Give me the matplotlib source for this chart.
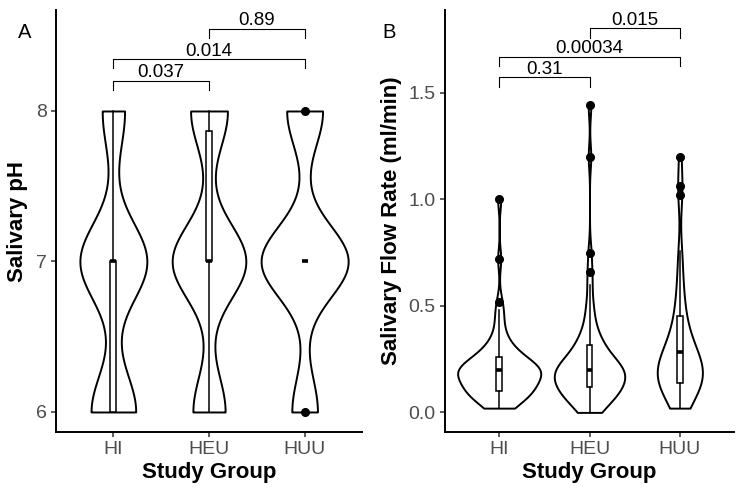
import numpy as np
import matplotlib
matplotlib.use('Agg')
import matplotlib.pyplot as plt

plt.rcParams['font.family'] = ['Liberation Sans', 'DejaVu Sans']

groups = ['HI', 'HEU', 'HUU']

# Panel A: salivary pH, counts of readings at 6, 7 and 8
ph_levels = [6, 7, 8]
ph_counts_hi = [10, 15, 5]
ph_counts_heu = [7, 16, 8]
ph_counts_huu = [5, 17, 7]

# box statistics: q1, median, q3, whisker low, whisker high
ph_box = [
    dict(q1=6.0, med=7.0, q3=7.0, whislo=6.0, whishi=8.0, fliers=[]),
    dict(q1=7.0, med=7.0, q3=7.87, whislo=6.0, whishi=8.0, fliers=[]),
    dict(q1=7.0, med=7.0, q3=7.0, whislo=7.0, whishi=7.0, fliers=[6.0, 8.0]),
]
ph_pvals = ['0.037', '0.014', '0.89']
ph_pairs = [(1, 2), (1, 3), (2, 3)]

# Panel B: salivary flow rate (ml/min), value -> number of subjects
flow_hi_values = [0.02, 0.04, 0.06, 0.08, 0.10, 0.12, 0.14, 0.16, 0.18, 0.20, 0.22,
                  0.24, 0.26, 0.28, 0.30, 0.32, 0.34, 0.36, 0.40, 0.44, 0.48,
                  0.52, 0.72, 1.00]
flow_hi_counts = [3, 2, 2, 3, 7, 3, 3, 4, 4, 10, 3,
                  3, 3, 2, 2, 1, 1, 1, 1, 1, 1,
                  1, 1, 1]
flow_heu_values = [0.00, 0.02, 0.04, 0.06, 0.08, 0.10, 0.12, 0.14, 0.16, 0.18, 0.20,
                   0.22, 0.24, 0.26, 0.28, 0.30, 0.32, 0.34, 0.36, 0.38, 0.40,
                   0.44, 0.48, 0.52, 0.60, 0.66, 0.75, 1.20, 1.44]
flow_heu_counts = [2, 2, 2, 2, 3, 5, 4, 3, 4, 4, 7,
                   3, 3, 2, 2, 2, 2, 1, 1, 1, 1,
                   1, 1, 1, 1, 1, 1, 1, 1]
flow_huu_values = [0.02, 0.04, 0.06, 0.08, 0.10, 0.12, 0.14, 0.16, 0.18, 0.20, 0.22,
                   0.24, 0.26, 0.28, 0.30, 0.34, 0.38, 0.42, 0.46, 0.50, 0.54,
                   0.60, 0.68, 0.76, 1.02, 1.06, 1.20]
flow_huu_counts = [2, 1, 1, 1, 2, 2, 3, 3, 3, 3, 2,
                   2, 2, 2, 2, 2, 2, 1, 1, 1, 1,
                   1, 1, 1, 1, 1, 1]

flow_box = [
    dict(q1=0.10, med=0.20, q3=0.26, whislo=0.02, whishi=0.48, fliers=[0.52, 0.72, 1.00]),
    dict(q1=0.12, med=0.20, q3=0.316, whislo=0.00, whishi=0.60, fliers=[0.66, 0.75, 1.20, 1.44]),
    dict(q1=0.136, med=0.283, q3=0.454, whislo=0.02, whishi=0.757, fliers=[1.02, 1.06, 1.20]),
]
flow_pvals = ['0.31', '0.00034', '0.015']
flow_pairs = [(1, 2), (1, 3), (2, 3)]

ph_data = [np.repeat(ph_levels, c).astype(float)
           for c in (ph_counts_hi, ph_counts_heu, ph_counts_huu)]
flow_data = [np.repeat(v, c) for v, c in ((flow_hi_values, flow_hi_counts),
                                          (flow_heu_values, flow_heu_counts),
                                          (flow_huu_values, flow_huu_counts))]


def draw_panel(ax, data, widths, bws, box, pairs, pvals, bracket_y, tick_drop):
    for i, d in enumerate(data):
        bw = bws[i] / np.std(d, ddof=1)
        parts = ax.violinplot([d], positions=[i + 1], widths=widths[i],
                              showextrema=False, bw_method=bw, points=300)
        for body in parts['bodies']:
            body.set_facecolor('white')
            body.set_edgecolor('black')
            body.set_linewidth(1.4)
            body.set_alpha(1)
            body.set_zorder(2)
    ax.bxp(box, positions=[1, 2, 3], widths=0.065, patch_artist=True,
           showcaps=False, manage_ticks=False, zorder=3,
           boxprops=dict(facecolor='white', edgecolor='black', linewidth=1.1),
           medianprops=dict(color='black', linewidth=2.6, solid_capstyle='butt'),
           whiskerprops=dict(color='black', linewidth=1.1),
           flierprops=dict(marker='o', markerfacecolor='black',
                           markeredgecolor='black', markersize=5.5))
    for (a, b), p, y in zip(pairs, pvals, bracket_y):
        ax.plot([a, a, b, b], [y - tick_drop, y, y, y - tick_drop],
                color='black', lw=0.8, zorder=4)
        ax.annotate(p, xy=((a + b) / 2, y), xytext=(0, 2.5),
                    textcoords='offset points', ha='center', va='baseline',
                    fontsize=13.5, color='black')

    ax.set_xlim(0.4, 3.6)
    ax.set_xticks([1, 2, 3])
    ax.set_xticklabels(groups)
    for side in ('top', 'right'):
        ax.spines[side].set_visible(False)
    for side in ('left', 'bottom'):
        ax.spines[side].set_linewidth(1.4)
    ax.tick_params(axis='both', length=3.6, width=1.1, color='#333333',
                   labelsize=14, labelcolor='#4D4D4D', pad=3)
    ax.set_xlabel('Study Group', fontsize=16, fontweight='bold', labelpad=3)


fig = plt.figure(figsize=(7.44, 4.96), dpi=100)
ax_a = fig.add_axes([56 / 744, 64 / 496, 306 / 744, 422 / 496])
ax_b = fig.add_axes([445 / 744, 64 / 496, 289 / 744, 422 / 496])

draw_panel(ax_a, ph_data, [0.70, 0.77, 0.91], [0.255, 0.245, 0.235],
           ph_box, ph_pairs, ph_pvals, [8.20, 8.345, 8.545], 0.062)
ax_a.set_ylim(5.867, 8.671)
ax_a.set_yticks([6, 7, 8])
ax_a.set_ylabel('Salivary pH', fontsize=16, fontweight='bold', labelpad=6)

draw_panel(ax_b, flow_data, [0.92, 0.78, 0.50], [0.05, 0.058, 0.09],
           flow_box, flow_pairs, flow_pvals, [1.573, 1.669, 1.803], 0.045)
ax_b.set_ylim(-0.092, 1.888)
ax_b.set_yticks([0.0, 0.5, 1.0, 1.5])
ax_b.set_yticklabels(['0.0', '0.5', '1.0', '1.5'])
ax_b.set_ylabel('Salivary Flow Rate (ml/min)', fontsize=16, fontweight='bold', labelpad=5)

fig.text(18 / 744, 1 - 32 / 496, 'A', fontsize=14.5, va='center', ha='left')
fig.text(382 / 744, 1 - 32 / 496, 'B', fontsize=14.5, va='center', ha='left')

fig.savefig('out.png', dpi=100)
